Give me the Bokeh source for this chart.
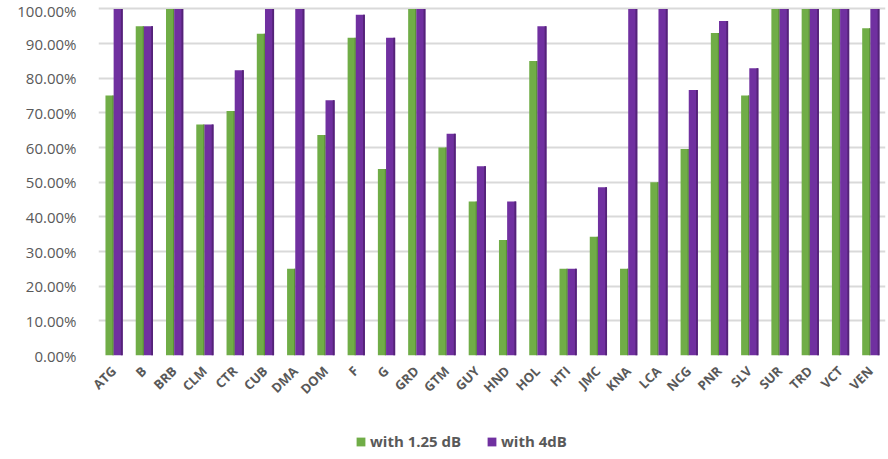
from bokeh.plotting import figure
from bokeh.layouts import column
from bokeh.models import FactorRange, Range1d, NumeralTickFormatter, Legend, LegendItem, ColumnDataSource
from bokeh.transform import dodge
from bokeh.embed import file_html
from bokeh.resources import INLINE
from math import pi

categories = ["ATG", "B", "BRB", "CLM", "CTR", "CUB", "DMA", "DOM", "F", "G", "GRD", "GTM", "GUY",
              "HND", "HOL", "HTI", "JMC", "KNA", "LCA", "NCG", "PNR", "SLV", "SUR", "TRD", "VCT", "VEN"]
with_1_25_dB = [0.75, 0.95, 1.00, 0.6667, 0.7059, 0.9286, 0.25, 0.6364, 0.9167, 0.5385, 1.00, 0.60, 0.4444,
                0.3333, 0.85, 0.25, 0.3429, 0.25, 0.50, 0.5957, 0.9306, 0.75, 1.00, 1.00, 1.00, 0.9444]
with_4dB = [1.00, 0.95, 1.00, 0.6667, 0.8235, 1.00, 1.00, 0.7364, 0.9833, 0.9167, 1.00, 0.64, 0.5463,
            0.4444, 0.9500, 0.25, 0.4857, 1.00, 1.00, 0.7660, 0.9653, 0.8289, 1.00, 1.00, 1.00, 1.00]
series_names = ["with 1.25 dB", "with 4dB"]

GREEN = "#70AD47"
GREEN_D = "#5B8E39"
PURPLE = "#7030A0"
PURPLE_D = "#542378"
TXT = "#595959"

src = ColumnDataSource(dict(cat=categories, g=with_1_25_dB, p=with_4dB))

p = figure(x_range=FactorRange(*categories), y_range=Range1d(0, 1.01),
           width=888, height=410, output_backend="svg", toolbar_location=None,
           min_border_left=98, min_border_right=3, min_border_top=5, min_border_bottom=55,
           outline_line_color=None, background_fill_color=None, border_fill_color="white")

p.vbar(x=dodge("cat", -0.135, range=p.x_range), top="g", width=0.27, source=src,
       fill_color=GREEN, line_color=None)
p.vbar(x=dodge("cat", -0.02, range=p.x_range), top="g", width=0.04, source=src,
       fill_color=GREEN_D, line_color=None)
p.vbar(x=dodge("cat", 0.15, range=p.x_range), top="p", width=0.30, source=src,
       fill_color=PURPLE, line_color=None)
p.vbar(x=dodge("cat", 0.27, range=p.x_range), top="p", width=0.06, source=src,
       fill_color=PURPLE_D, line_color=None)

p.xgrid.grid_line_color = None
p.ygrid.grid_line_color = "#D9D9D9"
p.ygrid.grid_line_width = 2

p.yaxis.formatter = NumeralTickFormatter(format="0.00%")
p.yaxis.ticker = [i / 10 for i in range(11)]
for ax in (p.xaxis, p.yaxis):
    ax.axis_line_color = None
    ax.major_tick_line_color = None
    ax.minor_tick_line_color = None
    ax.major_tick_out = 0
    ax.major_tick_in = 0
    ax.major_label_text_color = TXT
p.yaxis.major_label_text_font = "Open Sans"
p.yaxis.major_label_text_font_size = "15px"
p.yaxis.major_label_standoff = 22
p.xaxis.major_label_text_font = "Open Sans"
p.xaxis.major_label_text_font_style = "bold"
p.xaxis.major_label_text_font_size = "13px"
p.xaxis.major_label_orientation = pi / 4
p.xaxis.major_label_standoff = 13
p.x_range.range_padding = 0
p.x_range.group_padding = 0

# legend strip below the chart (legend-only renderers draw nothing themselves)
nan = float("nan")
lf = figure(width=888, height=49, output_backend="svg", toolbar_location=None,
            x_range=Range1d(0, 1), y_range=Range1d(0, 1), x_axis_type=None, y_axis_type=None,
            min_border=0, outline_line_color=None, background_fill_color=None,
            border_fill_color="white")
lf.grid.visible = False
r1 = lf.vbar(x=[nan], bottom=[nan], top=[nan], width=0.1, fill_color=GREEN, line_color=None)
r2 = lf.vbar(x=[nan], bottom=[nan], top=[nan], width=0.1, fill_color=PURPLE, line_color=None)
legend = Legend(items=[LegendItem(label=series_names[0], renderers=[r1]),
                       LegendItem(label=series_names[1], renderers=[r2])],
                orientation="horizontal", location=(257, 8),
                padding=0, margin=0, spacing=0, glyph_width=11, glyph_height=11,
                label_standoff=4, label_width=116, border_line_color=None, background_fill_alpha=0,
                label_text_font="Open Sans", label_text_font_style="bold",
                label_text_font_size="15px", label_text_color=TXT)
lf.add_layout(legend, "center")

layout = column(p, lf, spacing=0)
open("out.html", "w").write(file_html(layout, INLINE))
